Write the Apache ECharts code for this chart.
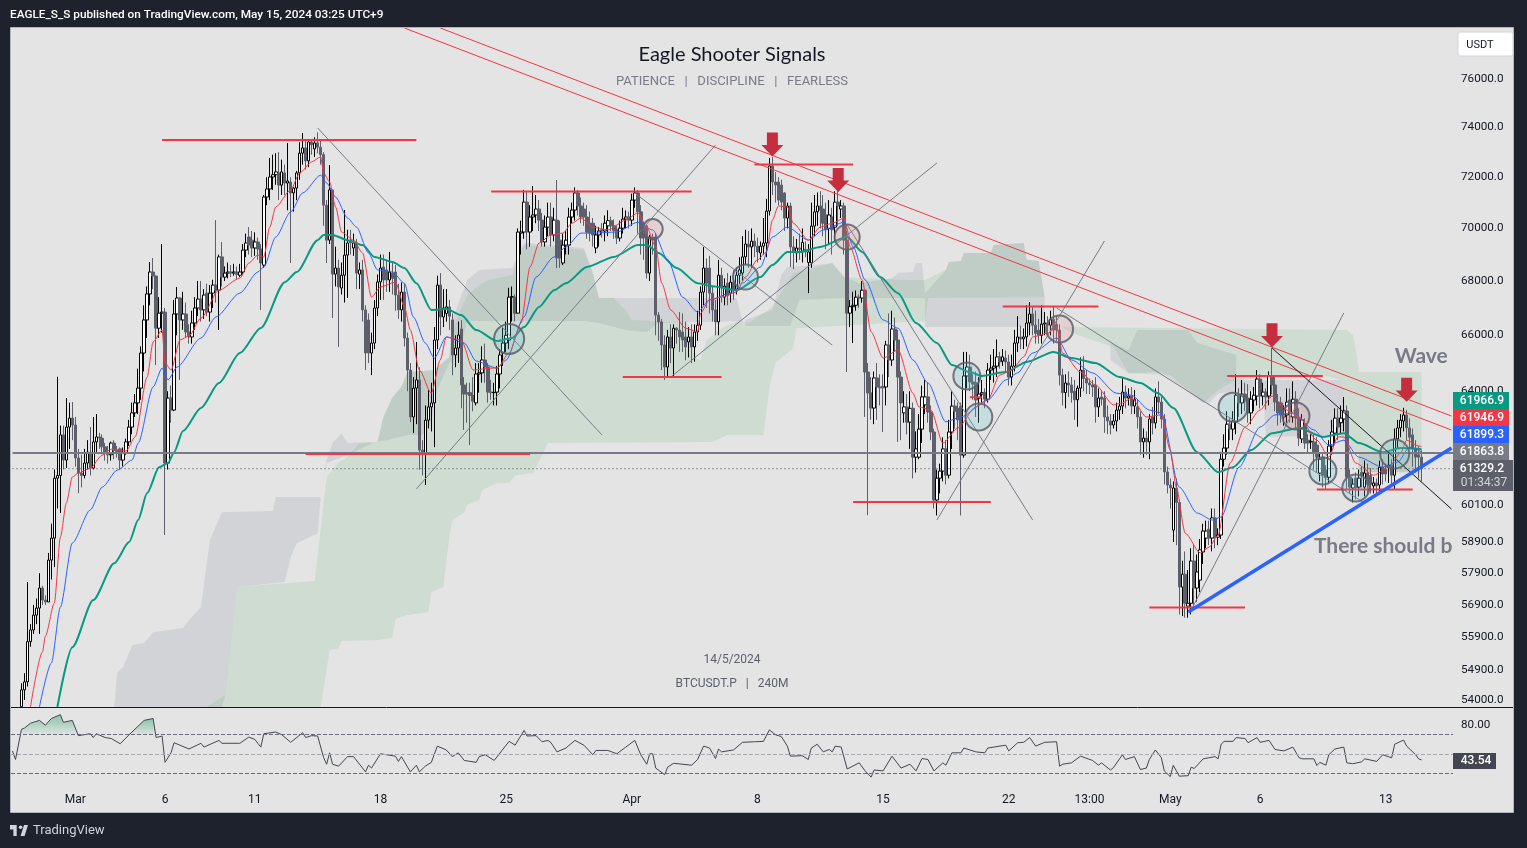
<!DOCTYPE html>
<html>
<head>
<meta charset="utf-8">
<title>BTCUSDT.P 240M</title>
<script src="https://cdn.jsdelivr.net/npm/echarts@6/dist/echarts.min.js"></script>
<style>
html,body{margin:0;padding:0;background:#1e222d;}
#chart{width:1527px;height:848px;}
</style>
</head>
<body>
<div id="chart"></div>
<script>
var barCount = 482;
var firstCandle = 3;
var tickIndex = [21,51,81,123,165,207,249,291,333,360,387,417,459];
var tickText = ['Mar','6','11','18','25','Apr','8','15','22','13:00','May','6','13'];
var priceTicks = [76000,74000,72000,70000,68000,66000,64000,60100,58900,57900,56900,55900,54900,54000];
var priceMin = 53790, priceMax = 78163;
var markedPrice = 61863.8, lastPrice = 61329.2;

// open, close, low, high, candle 3 onwards
var candleRows = [
[53800,54300,53800,54500],[54300,54540,54000,54800],[54540,55760,54400,57620],[55760,56120,55600,56300],[56120,56580,56000,56900],[56580,56800,56300,57100],[56800,57430,56000,57900],
//10
[57430,57050,56900,57500],[57050,56990,56900,57200],[56990,58320,56990,58550],[58320,59030,57700,59500],[59030,61010,58100,61300],[61010,61100,60000,64510],[61100,62480,59850,62800],[62480,61620,61300,62800],[61620,62750,61350,63760],[62750,63060,62000,63600],
//20
[63060,62820,62300,63620],[62820,61690,61400,63100],[61690,61180,60510,62000],[61180,61100,60700,61800],[61100,61520,61000,62000],[61520,61890,61300,62300],[61890,61350,61100,62750],[61350,62240,61300,63100],[62240,62410,61900,63200],[62410,62370,62000,62550],
//30
[62370,62070,61900,62500],[62070,61860,61600,62200],[61860,61800,61500,62100],[61800,62200,61600,62250],[62200,61950,61650,62300],[61950,61900,61700,62100],[62000,61620,61300,62050],[61620,61860,61400,62050],[61860,62240,61800,62350],[62240,62750,62100,63000],
//40
[62750,63240,62500,63600],[63240,63590,63100,63900],[63590,64110,63200,64800],[64110,65360,63700,65600],[65360,66560,64700,67100],[66560,67520,65900,67800],[67520,68340,67100,68720],[68340,68190,67700,68870],[68190,66260,64930,68200],[66260,66810,65900,67400],
//50
[66810,66850,66100,69400],[66850,61520,59130,67000],[61520,63760,61300,64000],[63760,63340,62900,64200],[63340,66780,63300,67300],[66780,67370,66000,67780],[67370,66560,64400,67400],[66560,66780,66200,67600],[66780,66120,65900,67200],[66120,65940,65700,66400],
//60
[65940,66450,65700,66900],[66450,67000,66200,67400],[67000,67330,66700,68000],[67330,66930,66500,68000],[66930,67480,66600,67700],[67550,66850,66700,67900],[66850,67550,66500,67850],[67550,67850,67000,68050],[67850,67660,67200,70320],[67660,68910,66190,69000],
//70
[68910,68150,67800,69480],[68150,68300,68000,68550],[68300,68340,68100,68700],[68340,68300,68150,68600],[68300,68340,68200,68650],[68340,68250,68050,68550],[68220,68340,68150,68650],[68340,69170,68250,69400],[69170,69440,68900,69800],[69670,69360,69000,70050],
//80
[69550,69250,68900,69900],[69250,69480,68950,69850],[69480,69210,68800,69650],[69210,68680,66930,69400],[68600,71220,68500,71300],[71220,71535,70900,72000],[71535,72010,71100,72770],[72010,72100,71500,72900],[72100,72210,71700,72960],[72170,71690,71100,73000],
//90
[71690,72210,71300,72700],[72170,71770,71300,72500],[71770,71850,70700,73370],[71810,71380,68680,72000],[71380,71570,70650,71600],[71570,72170,71100,72250],[72170,72960,71900,73400],[72960,73170,72500,73770],[73170,72650,72300,73500],[72650,73410,72400,73500],
//100
[73410,73300,72900,73500],[73130,73370,72800,73600],[73370,73200,72950,73800],[73200,72900,72500,73500],[72900,70900,70100,73000],[70900,69550,68680,71100],[69550,71500,69400,72480],[71500,68260,66630,71500],[68260,68490,67800,69300],[68490,67780,65580,68800],
//110
[67740,68220,67500,68700],[68220,68980,67200,70710],[68980,69440,67370,69950],[69550,69450,69000,69950],[69250,69440,68950,69800],[69440,68300,67700,69600],[68260,68420,67700,68700],[68420,66930,66500,68800],[66930,65360,64750,67100],[66560,65360,65000,66800],
//120
[65360,65720,64570,66100],[65720,67000,65500,67300],[67000,67970,66700,68250],[67970,68490,67300,69000],[68530,68040,67300,69000],[68420,68040,67600,68800],[68040,68340,67600,69100],[68300,68100,67500,68700],[68340,67480,66900,68600],[67480,66930,66600,67900],
//130
[66930,67590,66500,67950],[67590,65900,65600,67900],[65900,64750,64000,66100],[64750,63100,62920,65000],[63100,64110,62540,64500],[64110,64400,62850,65760],[64400,61960,61300,64850],[61960,61860,61100,62300],[61860,62990,60780,63500],[62990,63450,62700,64050],
//140
[63450,63590,62600,64300],[63590,65830,62060,66300],[65830,67850,65500,68200],[67850,66670,66000,68300],[66670,67000,66300,67700],[66800,67040,66500,67700],[67040,66700,66200,67300],[66560,65290,64570,66800],[65290,65540,64850,66000],[65540,66010,65000,66500],
//150
[66230,64220,63400,66550],[64220,63900,62650,64500],[63950,63900,62900,64300],[63950,63850,62130,64300],[63850,63650,63300,64500],[63590,64610,63500,65000],[64610,64650,63950,65000],[64650,65110,64300,65600],[65110,64860,64300,65700],[64860,63970,63600,65000],
//160
[63970,63950,63700,64400],[63950,63960,63500,64300],[63970,64610,63500,64900],[64610,65290,64100,65500],[65360,65720,64900,66300],[65720,66000,65400,66500],[65830,67400,65500,67750],[67400,67420,66500,67800],[67400,66810,66500,67500],[66810,69860,66800,70000],
//170
[69820,69860,69000,70300],[69860,71020,69600,71500],[71020,69860,69200,71450],[69860,70440,69300,70900],[70440,70520,69900,71650],[70520,70750,70200,71300],[70750,70320,69900,71100],[70320,69480,69300,70600],[69480,70050,69300,70500],[70050,70440,69700,71000],
//180
[70440,69750,69300,71000],[69750,70320,69500,70800],[70320,68870,68490,71890],[69550,68870,68500,70300],[68680,69360,68600,69800],[69360,69550,69000,69900],[69360,70440,69000,70800],[70440,70710,70200,71000],[70710,71380,70300,71600],[71380,70870,70500,71500],
//190
[70870,70440,70200,71200],[70750,70440,70100,71000],[70440,69860,69600,70900],[70200,69820,69500,70650],[70200,69750,69300,70400],[69250,69750,69050,70100],[69750,69900,69300,70050],[69950,69900,69650,70200],[69900,70200,69500,70500],[70100,70300,69700,70700],
//200
[70300,70100,69900,70450],[70100,69920,69600,70350],[69950,69630,69400,70100],[69630,70010,69500,70300],[70010,70360,69800,70800],[70360,70440,70000,70700],[70440,70320,70000,70650],[70320,71100,70100,71350],[71100,71380,70800,71600],[71380,70640,69800,71500],
//210
[70640,69630,69000,70900],[70200,69630,68800,70250],[70100,68300,68100,70150],[68300,69670,68000,69750],[69670,69550,69000,69800],[69670,66740,66000,69800],[66740,66490,65800,66850],[66490,65650,64750,66600],[65650,64860,64400,66000],[64860,65940,64510,66200],
//220
[65940,65540,65000,66400],[65540,66260,64470,66400],[66260,66190,65700,66300],[66190,65940,65400,66850],[66120,65830,65400,66800],[65940,65580,65100,66500],[65760,65940,65200,66300],[65940,65580,65000,66400],[65580,66120,65050,66400],[66120,66370,65800,66900],
//230
[66370,67590,66200,67800],[67590,68490,67100,69290],[68490,67920,67000,68850],[68490,67550,66800,68950],[67550,66930,66500,67800],[66930,66490,66000,67300],[66490,68220,66000,68800],[68220,67780,67200,68500],[67400,67810,67100,68100],[67920,67450,67100,68300],
//240
[67550,67960,67200,68200],[67960,67660,67300,68400],[67660,68220,67500,68500],[68220,68420,67900,68900],[68300,68910,68000,69700],[68910,69400,68600,69950],[69400,69290,68500,69900],[69290,69510,68500,70000],[69510,69320,68900,69800],[69320,69100,68700,69650],
//250
[69060,69320,68800,69500],[69320,69440,69000,70400],[69440,70670,68900,71150],[70670,72450,70500,72770],[72450,71810,71300,72800],[71810,71690,71000,72200],[71810,71100,70900,72000],[71690,71020,70700,71900],[71380,70400,69900,71400],[70400,70870,70000,71000],
//260
[70870,69290,68530,71000],[69290,69100,68450,69700],[69060,69250,68700,69600],[69250,69200,68800,69800],[69100,69460,68700,70000],[69200,69100,68900,69500],[68700,69100,67550,69400],[68680,70090,68500,71000],[70090,70640,69700,71300],[70640,70870,70100,71400],
//270
[70870,70700,70000,71450],[70750,70200,69700,71300],[70520,69950,69200,71000],[70000,70520,69400,71100],[70440,69950,69000,70800],[70050,71020,69500,71450],[71020,70870,70100,71700],[70750,70870,70400,71100],[70870,69550,69000,71000],[69550,66810,64680,69900],
//280
[66810,67050,66300,67300],[67050,67100,65720,67600],[67100,67400,66900,67650],[67400,67370,67000,67500],[67370,67660,67200,68000],[67660,64680,63100,67700],[64680,63940,59780,65000],[63940,63410,63000,64500],[63410,64470,62850,64700],[64470,64150,63000,65000],
//290
[64150,64120,63500,64600],[64170,64120,62580,64600],[64150,65650,63500,65800],[65650,65110,64500,66800],[65110,66230,64900,66900],[66230,65830,65400,66650],[65830,64500,62240,66200],[64500,63590,62300,64700],[63240,63450,62900,64000],[63450,62920,62500,63900],
//300
[62920,63400,62000,64000],[63400,61720,61000,63600],[61720,62000,61200,62600],[61720,62680,61650,63200],[62680,63800,62200,64200],[63520,63800,63200,64400],[63800,63270,62900,64300],[63270,62580,62300,63500],[62580,60280,60000,62700],[60280,61010,59770,61300],
//310
[61010,61250,60500,61500],[61250,62000,60900,62400],[62000,61110,60800,62300],[61110,62580,61000,63000],[62580,63480,62000,64000],[63480,63300,62700,63700],[63400,63000,62300,63600],[63480,61790,59770,63600],[61790,64540,61700,65400],[64540,64860,64100,65400],
//320
[64860,64330,64000,65300],[64330,64250,63700,64600],[64300,63690,63100,64700],[63760,63900,62900,64500],[63900,63950,63600,64400],[63950,63720,63400,64100],[63720,64750,63600,65000],[64750,64820,64400,65300],[64820,64890,64300,65500],[64890,65220,64500,65850],
//330
[65220,65040,64800,65400],[65070,65220,64900,65500],[65180,65040,64700,65450],[65040,64500,64200,65300],[64500,64890,64200,65300],[64890,65720,64700,66200],[65720,65940,65400,66700],[65940,65870,65500,66350],[65870,65940,65500,66250],[65940,66450,65600,67100],
//340
[66450,66780,66000,67220],[66780,66370,66000,67050],[66370,66070,65700,66900],[66190,66000,65700,66600],[66000,66410,65700,67100],[66410,66450,66000,66850],[66450,66370,66000,66700],[66370,66590,66000,66900],[66590,66190,65700,67050],[66400,66190,65800,66700],
//350
[66190,64570,64200,66400],[64570,63950,63500,64800],[63950,64290,63400,64600],[64290,64220,63800,64700],[64220,63950,63600,64500],[64000,63700,63000,64400],[63700,64110,62760,64200],[64110,64750,63800,65200],[64750,64450,64000,65250],[64450,64290,63900,64750],
//360
[64290,64220,63900,64450],[64220,64150,63800,64400],[64220,63450,62900,64500],[63450,63760,63100,64100],[63800,63720,63500,64000],[63760,63100,62550,64000],[63100,62960,62500,63500],[62960,62820,62500,63200],[62820,62960,62700,63200],[62960,63340,62600,63600],
//370
[63340,63480,63000,63800],[63480,63970,63200,64500],[63970,63760,63400,64200],[63760,63830,63500,64100],[63830,63480,63200,64150],[63480,63720,63200,64050],[63450,63100,62700,63700],[63100,62240,61800,63300],[62240,62370,61700,62700],[62370,62240,61800,62600],
//380
[62240,63030,61650,63200],[63100,62890,62500,63450],[62890,63800,62700,64100],[63800,63620,63200,64350],[63620,63030,62700,63800],[63030,61220,60800,63200],[61220,60780,60500,61400],[60780,60680,60000,61000],[59290,60680,58900,60900],[60680,60200,58800,61000],
//390
[60200,57460,56600,60300],[57460,57870,56550,58300],[57870,56950,56500,58600],[56860,56950,56500,58000],[56950,58290,56600,58700],[58290,57430,56800,58800],[57430,57940,57000,58500],[57680,58650,57300,59000],[58580,59260,58200,59500],[59030,59260,58700,59600],
//400
[59320,59030,58800,59600],[59030,59690,58600,60000],[59690,59060,58700,60000],[59060,59130,58800,59350],[59130,61650,59000,61900],[61650,62030,61400,62500],[62030,62850,61800,63300],[62850,62680,62300,63100],[62680,62960,62300,63300],[62920,63860,62500,64600],
//410
[63860,63590,63100,64100],[63590,63900,63200,64400],[63900,63760,63300,64300],[63760,63240,62900,64250],[63240,63720,62850,64000],[63690,63860,63300,64150],[63830,64430,63500,64750],[64430,63830,63400,64600],[63830,63970,63500,64300],[63970,63800,63350,64100],
//420
[63830,64530,63500,64700],[64530,64220,63900,65540],[64220,63620,63300,64500],[63620,63240,62800,63900],[63590,63170,62900,63800],[63100,63170,62800,63500],[63170,63620,62900,64100],[63690,63270,62900,64100],[63100,63720,62900,64350],[63720,63060,62700,64000],
//430
[63060,62370,62100,63400],[62340,63000,62200,63200],[62790,62200,62000,63050],[62300,62200,61850,62500],[62240,62260,62000,62500],[62240,61860,61300,62500],[62130,61720,61200,62400],[61180,61650,60900,61850],[61720,61110,60700,61850],[61280,61040,60650,61450],
//440
[61040,62100,60850,62300],[62100,62580,61800,63000],[62540,63060,62200,63400],[63060,62750,62300,63400],[62900,63060,62500,63500],[63030,63310,62600,63800],[63310,61040,60600,63500],[61040,60710,60500,61300],[60680,60810,60200,61000],[61010,60700,60300,61200],
//450
[60710,61010,60400,61300],[61200,61100,60700,61400],[60710,61180,60400,61600],[61180,60800,60450,61500],[61100,60800,60500,61350],[60750,60850,60500,61050],[60850,60750,60450,61000],[60780,61380,60500,61600],[61380,61150,60800,61650],[61300,61150,60900,61500],
//460
[61380,61450,60850,61900],[61450,61110,60800,61650],[61110,62340,60650,62700],[62340,62720,62000,63000],[62720,62990,62400,63200],[62960,63170,62600,63420],[63170,62720,62300,63350],[62720,62400,62000,63050],[62480,62030,61400,62700],[62030,61720,61200,62300],
//470
[61800,61720,61000,62100],[61720,61329,60900,61950]
];

var emaFast = [[6,53790],[10,55440],[11,55930],[14,56960],[16,59060],[18,60180],[20,61050],[22,61180],[26,61350],[30,61790],[33,61990],[38,61930],[41,62410],[45,64500],[47,65760],[50,66190],[51,65000],[53,64750],[56,65830],[59,65980],[63,66630],[69,67660],[76,68110],[79,68680],[82,68980],[84,68910],[86,70050],[88,70830],[93,71500],[96,72170],[100,72610],[103,72810],[104,72170],[106,71810],[108,70830],[110,69860],[114,69550],[117,69060],[120,67400],[123,67780],[128,67960],[131,67040],[133,66190],[136,64750],[140,63930],[143,65110],[145,65940],[150,65830],[154,64750],[160,64820],[162,64820],[166,65360],[170,66450],[173,68530],[176,69440],[180,69750],[184,69820],[187,70200],[190,70400],[194,70050],[199,69940],[205,70320],[209,70600],[212,70050],[215,69290],[217,67920],[220,66930],[225,66260],[229,66120],[230,66810],[233,67300],[237,67400],[242,67590],[245,68150],[249,68800],[252,69100],[254,70320],[256,70870],[259,70830],[261,70200],[266,69550],[270,70050],[274,70200],[278,70400],[280,69290],[284,68040],[287,66120],[291,65180],[296,65470],[301,63930],[303,63450],[307,63340],[311,62200],[316,62720],[322,63450],[326,63690],[330,64570],[334,64750],[338,65220],[341,65940],[346,66080],[349,66300],[351,65360],[357,64680],[362,64220],[368,63520],[371,63590],[374,63760],[379,63100],[384,63170],[387,61960],[389,60710],[392,59190],[397,58550],[400,58740],[403,59130],[407,61520],[412,62750],[417,63340],[421,63830],[426,63340],[430,63100],[436,62300],[440,61720],[443,62410],[445,62410],[449,61520],[455,61110],[460,61380],[464,61860],[466,62300],[470,62100],[471,62080]];

var emaMid = [[9,53790],[13,55110],[16,56830],[20,58870],[26,59950],[30,60710],[35,61280],[40,61620],[42,62200],[47,64150],[50,64820],[52,64400],[55,64860],[63,65900],[68,66670],[76,67550],[82,68340],[84,68530],[88,69670],[93,70640],[97,71380],[103,72080],[105,71770],[108,71220],[112,70400],[115,70050],[119,69060],[122,68420],[127,68340],[131,67920],[134,66670],[138,65720],[141,65180],[145,65940],[151,65720],[155,65070],[162,64820],[165,65110],[171,66670],[175,68150],[181,68910],[185,69290],[190,69820],[194,69820],[202,69860],[209,70240],[214,69940],[219,68800],[224,67400],[229,66850],[233,67300],[240,67550],[244,67920],[250,68530],[254,69670],[259,70050],[266,69550],[271,69940],[278,70240],[281,69290],[285,68040],[291,66560],[296,66260],[301,65110],[306,64290],[312,62930],[317,63100],[326,63690],[332,64400],[336,64650],[341,65360],[349,65900],[354,65110],[361,64650],[369,63930],[374,63860],[380,63340],[384,63240],[390,60710],[396,59850],[401,59620],[404,59720],[410,61380],[417,62750],[422,63170],[428,63240],[435,62650],[440,62130],[445,62300],[450,61720],[458,61380],[463,61550],[467,62060],[471,61899]];

var emaSlow = [[15,53790],[20,55590],[27,57050],[34,58220],[39,58900],[42,59620],[45,60510],[49,61380],[52,61520],[54,61890],[57,62610],[63,63410],[69,64290],[76,65360],[83,66270],[91,67960],[95,68340],[102,69550],[104,69750],[107,69750],[112,69550],[117,69360],[121,68910],[127,68720],[131,68490],[135,67920],[140,66930],[145,66960],[150,66740],[155,66190],[162,65790],[167,65900],[171,66300],[176,67040],[181,67660],[185,67920],[192,68530],[201,68910],[209,69360],[212,69360],[216,69060],[222,68490],[229,67920],[234,67810],[242,67660],[250,68150],[254,68600],[259,69100],[263,69100],[270,69290],[279,69670],[284,69100],[290,68150],[296,67550],[302,66450],[309,65720],[314,64930],[320,64680],[324,64540],[332,64680],[339,65040],[348,65400],[354,65180],[362,65000],[370,64500],[377,64290],[383,63930],[388,63410],[396,61890],[403,61210],[408,61380],[414,61960],[421,62540],[430,62720],[438,62410],[445,62540],[450,62200],[458,61890],[464,62030],[471,61990]];

var cloudGreenLeft = [[65,53790],[71,54150],[75,57460],[101,57650],[103,59290],[105,61050],[107,61280],[109,61550],[112,61720],[116,62200],[122,62240],[124,63100],[127,63790],[130,64150],[132,64680],[141,64750],[146,65220],[147,66190],[152,67480],[156,67850],[159,68040],[167,68230],[171,69360],[191,69170],[194,68300],[196,67370],[201,67370],[205,66930],[207,66560],[226,66450],[228,65180],[230,65110],[232,65830],[237,66260],[243,66560],[246,66450],[254,67040],[261,68300],[268,68490],[274,68680],[278,68150],[297,68040],[305,68040],[312,68420],[313,68720],[317,68760],[318,69060],[327,69060],[328,69360],[338,69440],[339,68800],[343,68760],[345,67400],[306,67370],[305,66520],[262,66260],[261,65540],[255,65000],[253,64150],[251,62480],[239,62480],[234,62240],[179,62200],[174,61180],[168,61110],[166,60850],[162,60850],[157,60610],[156,60280],[152,60120],[151,59880],[147,59620],[146,59060],[144,57460],[140,57300],[139,56680],[132,56580],[128,56460],[127,55870],[122,55810],[110,55780],[109,55560],[106,55500],[103,53790]];
var cloudGreenRight = [[351,66300],[446,66190],[448,66010],[449,65470],[450,64680],[471,64680],[471,60780],[469,61210],[450,61210],[450,61860],[446,62060],[445,63690],[444,64400],[438,64570],[409,64400],[403,64040],[398,63590],[387,64570],[373,64640],[368,65580],[354,66080]];
var cloudGrayLeft = [[34,53790],[35,54830],[37,54990],[40,55650],[44,55720],[47,56050],[57,56180],[59,56430],[63,56830],[66,58970],[70,59880],[87,59920],[88,60380],[103,60380],[105,61620],[107,62200],[110,62540],[112,62200],[122,62240],[124,63100],[127,63790],[130,64150],[132,64680],[141,64750],[146,65220],[147,66560],[152,68040],[156,68420],[167,68490],[171,69440],[191,69250],[194,68300],[196,67370],[242,67370],[244,66520],[216,66450],[212,66120],[205,66190],[196,66450],[191,66520],[156,66520],[152,66520],[149,65220],[146,65000],[143,64290],[141,63790],[140,62890],[137,62480],[132,62480],[125,62300],[121,62240],[112,61790],[105,61520],[103,60380],[102,59190],[98,59000],[95,58870],[93,58420],[91,57620],[75,57460],[71,54090],[70,53790]];
var cloudGrayMid = [[245,66560],[254,66930],[257,68230],[259,68530],[269,68600],[274,68680],[278,68150],[283,67920],[294,68110],[296,68300],[301,68340],[302,68680],[304,68680],[305,67550],[312,68420],[313,68720],[317,68760],[318,69060],[327,69060],[328,69360],[338,69440],[339,68800],[343,68760],[345,67400],[345,66300],[305,66300],[305,67370],[277,67370],[263,67300],[260,66340],[245,66340]];
var cloudGrayRight = [[367,65720],[373,65470],[376,66190],[393,66190],[396,65720],[409,65290],[409,64400],[444,64400],[445,63690],[446,62060],[444,62480],[419,62410],[418,64040],[403,63930],[400,63590],[398,63590],[384,64680],[373,64640],[367,65110]];
var cloudGrayEnd = [[450,61860],[469,61860],[469,61210],[450,61210]];

// from bar, from price, to bar, to price
var redLevels = [[49.8,73490,135.4,73490],[97.8,61826,173.3,61826],[159.6,71437,227.1,71437],[203.7,64500,237.1,64500],[247.8,72507,281.3,72507],[280.6,60217,327,60217],[330.7,67056,363.2,67056],[379.8,56820,412.3,56820],[405.6,64540,438,64540],[435.7,60630,468.1,60630],[319.5,63790,323.5,63790]];
var redTrends = [[143.4,78163,481.4,63131],[131,78163,481.4,62647]];
var grayTrends = [[102.1,73978,197.4,62482],[135.2,60647,235.1,73290],[208.4,71378,273.9,65649],[219.8,64500,309.3,72567],[279.2,70133,341.1,59623],[309,59623,365.2,69517],[349.4,67000,452,60175],[393.6,56740,444.7,66820]];
var blackTrends = [[421.3,65542,481.4,59982]];
var blueTrends = [[392.9,56680,481.4,62030]];
var tealCircles = [[166,65869],[245,68150],[319,64540],[323,63100],[408,63440],[438,61250],[449,60680],[462,61830]];
var redCircles = [[214,69977],[279,69670],[350,66230],[429,63131]];
var arrowMarks = [[254,73309],[276,71890],[421,66000],[466,64050]];
var chartNotes = [['There should be',434.5,58760],['Wave 4',462.4,65250]];

var rsiTicks = [80];
var rsiLevels = [70,50,30];
var rsiLast = 43.54;
var rsiHighA = [[3,70],[3,75.6],[4,77],[6,82],[9,85],[11,80],[13,87],[16,91],[17,83],[20,85],[22,70]];
var rsiHighB = [[39,70],[44,85],[47,87],[48,70]];
var rsiValues = [[0,53],[1,44],[3,75.6],[4,77],[6,82],[9,85],[11,80],[13,87],[16,91],[17,83],[20,85],[22,69],[26,71],[27,67],[28,71],[31,67],[33,66],[36,60.5],[39,70],[44,85],[47,87],[48,67],[50,68.6],[51,41],[53,51],[54,61.6],[59,55],[63,61],[64,57],[69,64],[70,61],[76,61],[79,67.5],[81,65],[83,57],[84,71],[88,72.8],[90,70],[93,62],[97,72],[98,67],[100,69],[102,68.6],[104,46],[105,39],[106,51],[107,39],[109,37],[112,47],[114,47],[118,31],[119,38],[120,35],[123,50],[125,49],[128,47.5],[129,42],[130,47],[133,31],[135,38],[136,31],[138,37],[140,41],[142,58],[145,54],[147,47],[149,51],[151,43],[155,41],[156,47],[158,49],[161,43],[164,55],[166,63],[168,59],[171,74.5],[172,68.6],[175,69],[177,62.6],[179,64],[180,61.6],[182,52],[185,56],[188,64],[191,59],[194,49],[195,53.5],[199,53.5],[202,50],[205,57],[208,64],[210,49],[212,39],[213,50],[214,50],[215,35],[218,28],[219,36],[221,40],[227,38],[229,44],[231,58],[233,56],[235,45],[236,55],[237,52],[241,54],[244,62],[248,62.6],[251,63],[253,75],[255,70],[257,68],[259,58],[260,47.5],[264,48],[266,44],[267,56],[269,60],[271,52],[273,54.5],[274,52],[275,58],[277,57],[279,34],[283,40.5],[285,32],[287,25.5],[288,33],[291,32],[294,47.5],[297,35],[300,39],[302,32],[304,45],[306,44],[308,32],[311,40.5],[312,38],[314,51],[317,51],[318,56],[322,52],[325,51],[326,56],[332,59],[333,53],[336,61.6],[338,62],[340,67],[342,58],[345,62],[349,62.6],[350,37],[351,39],[354,40.5],[357,47.5],[361,43],[363,38],[364,40.5],[367,33],[368,35.5],[371,49],[372,44],[375,47],[377,33.5],[379,35],[380,44],[382,54],[384,46],[385,32],[387,26],[388,38],[390,26.5],[393,27],[394,36],[395,34.5],[398,44.7],[402,47],[403,44.7],[404,60],[405,63],[408,63],[409,67],[412,66],[413,61.6],[416,67],[417,62],[420,64],[422,54.5],[425,53],[428,57],[430,46],[431,44.7],[435,44.7],[436,37.7],[437,41],[439,38],[440,49],[442,55],[445,57],[446,40.5],[448,39.5],[451,41.6],[452,44.7],[456,42],[458,49],[461,45.8],[462,60],[465,64.4],[466,58],[469,49],[470,44.7],[471,43.54]];

var priceTagText = ['61966.9','61946.9','61899.3','61863.8'];

var FONT = 'Roboto, sans-serif';
var chart = echarts.init(document.getElementById('chart'));

var categories = [];
for (var n = 0; n < barCount; n++) {
	categories.push(String(n));
}
var candleData = [];
for (var k = 0; k < firstCandle; k++) {
	candleData.push('-');
}
candleData = candleData.concat(candleRows);

function cloudSeries(shape, color) {
	return {
		type: 'custom', xAxisIndex: 0, yAxisIndex: 0, z: 1, clip: true, silent: true,
		data: [0],
		renderItem: function(params, api) {
			var pts = [];
			for (var i = 0; i < shape.length; i++) {
				pts.push(api.coord(shape[i]));
			}
			return {type: 'polygon', shape: {points: pts}, style: {fill: color}};
		}
	};
}

function trendSeries(rows, color, width, z, dash) {
	return {
		type: 'custom', xAxisIndex: 0, yAxisIndex: 0, z: z, clip: true, silent: true,
		data: rows.map(function(r, i) { return i; }),
		renderItem: function(params, api) {
			var r = rows[params.dataIndex];
			var a = api.coord([r[0], r[1]]);
			var b = api.coord([r[2], r[3]]);
			return {type: 'line', shape: {x1: a[0], y1: a[1], x2: b[0], y2: b[1]}, style: {stroke: color, lineWidth: width, fill: null, lineDash: dash || null}};
		}
	};
}

function emaSeries(points, color, width) {
	return {
		type: 'line', xAxisIndex: 0, yAxisIndex: 0, z: 3, data: points,
		showSymbol: false, silent: true, smooth: 0.25, smoothMonotone: 'x',
		lineStyle: {color: color, width: width}
	};
}

function rsiHighSeries(points) {
	return {
		type: 'line', xAxisIndex: 1, yAxisIndex: 1, z: 2, data: points, showSymbol: false, silent: true,
		lineStyle: {width: 0},
		areaStyle: {
			origin: 70,
			color: new echarts.graphic.LinearGradient(0, 0, 0, 1, [
				{offset: 0, color: 'rgba(8,153,90,0.6)'},
				{offset: 1, color: 'rgba(8,153,90,0.03)'}
			])
		}
	};
}

function panelText(text, x, y, size, color, extra) {
	// middle alignment sits a pixel high here
	var style = {text: text, x: x, y: y + 1, fill: color, font: size + 'px ' + FONT, textAlign: 'center', textVerticalAlign: 'middle'};
	for (var key in extra) {
		style[key] = extra[key];
	}
	return {type: 'text', z: 60, silent: true, style: style};
}

function tagBox(x, y, w, h, fill) {
	return {type: 'rect', z: 60, silent: true, shape: {x: x, y: y, width: w, height: h}, style: {fill: fill}};
}

var tagColors = ['#089981', '#f23645', '#2962ff', '#787b86'];
var tagY = [392, 409, 426, 443];
var tagItems = [];
for (var t = 0; t < priceTagText.length; t++) {
	tagItems.push(tagBox(1453, tagY[t], 56, 17, tagColors[t]));
	tagItems.push(panelText(priceTagText[t], 1482, tagY[t] + 8, 12, '#fff', {font: '500 12px ' + FONT}));
}
tagItems.push(tagBox(1453, 460, 60, 31, '#5d606b'));
tagItems.push(panelText(lastPrice.toFixed(1), 1482, 467.5, 12, '#fff', {font: '500 12px ' + FONT}));
tagItems.push(panelText('01:34:37', 1484, 481.5, 12, '#d1d4dc'));
tagItems.push(tagBox(1453, 753, 43, 16, '#434651'));
tagItems.push(panelText(rsiLast.toFixed(2), 1476, 760, 12, '#fff', {font: '500 12px ' + FONT}));

var option = {
	animation: false,
	backgroundColor: '#1e222d',
	grid: [
		{left: 11, right: 74, top: 28, height: 679},
		{left: 11, right: 74, top: 708, height: 82}
	],
	xAxis: [
		{type: 'category', gridIndex: 0, data: categories, show: false, boundaryGap: true},
		{
			type: 'category', gridIndex: 1, data: categories, boundaryGap: true,
			axisLine: {show: false}, axisTick: {show: false},
			axisLabel: {
				color: '#131722', fontFamily: FONT, fontSize: 12, margin: 4,
				interval: function(idx) { return tickIndex.indexOf(idx) >= 0; },
				formatter: function(val, idx) { return tickText[tickIndex.indexOf(idx)]; }
			}
		}
	],
	yAxis: [
		{
			type: 'log', gridIndex: 0, position: 'right', min: priceMin, max: priceMax, logBase: 10,
			splitLine: {show: false}, minorSplitLine: {show: false}, axisLine: {show: false}, axisTick: {show: false},
			axisLabel: {
				customValues: priceTicks, color: '#131722', fontFamily: FONT, fontSize: 11.7, margin: 8, padding: [2, 0, 0, 0],
				showMinLabel: true, showMaxLabel: true,
				formatter: function(val) { return Number(val).toFixed(1); }
			}
		},
		{
			type: 'value', gridIndex: 1, position: 'right', min: 12, max: 98,
			splitLine: {show: false}, axisLine: {show: false}, axisTick: {show: false},
			axisLabel: {
				customValues: rsiTicks, color: '#131722', fontFamily: FONT, fontSize: 11.7, margin: 8, padding: [3, 0, 0, 0],
				formatter: function(val) { return Number(val).toFixed(2); }
			}
		}
	],
	series: [
		cloudSeries(cloudGrayLeft, 'rgba(107,113,133,0.15)'),
		cloudSeries(cloudGrayMid, 'rgba(107,113,133,0.15)'),
		cloudSeries(cloudGrayRight, 'rgba(107,113,133,0.15)'),
		cloudSeries(cloudGrayEnd, 'rgba(107,113,133,0.15)'),
		cloudSeries(cloudGreenLeft, 'rgba(88,175,108,0.15)'),
		cloudSeries(cloudGreenRight, 'rgba(88,175,108,0.15)'),
		{
			type: 'candlestick', xAxisIndex: 0, yAxisIndex: 0, z: 2, data: candleData, barWidth: 3, silent: true, clip: true,
			itemStyle: {color: '#ffffff', color0: '#5d606b', borderColor: '#000000', borderColor0: '#5d606b', borderWidth: 1}
		},
		emaSeries(emaSlow, '#089981', 2),
		emaSeries(emaMid, '#2962ff', 1),
		emaSeries(emaFast, '#f23645', 1),
		trendSeries([[-0.5, markedPrice, barCount - 0.5, markedPrice]], '#787b86', 2, 4),
		trendSeries([[-0.5, lastPrice, barCount - 0.5, lastPrice]], '#434651', 1, 4, [1, 3]),
		trendSeries(grayTrends, '#787b86', 1, 4),
		trendSeries(redTrends, '#f23645', 1, 4),
		trendSeries(redLevels, '#f23645', 2, 4),
		trendSeries(blackTrends, '#131722', 1, 4),
		trendSeries(blueTrends, '#2962ff', 3.5, 4),
		{
			type: 'scatter', xAxisIndex: 0, yAxisIndex: 0, z: 5, data: tealCircles, silent: true,
			symbolSize: function(v, p) { return [30, 25, 27, 27, 29, 27, 27, 29][p.dataIndex]; },
			itemStyle: {color: 'rgba(90,190,200,0.22)', borderColor: 'rgba(93,96,107,0.85)', borderWidth: 2, opacity: 1}
		},
		{
			type: 'scatter', xAxisIndex: 0, yAxisIndex: 0, z: 5, data: redCircles, silent: true,
			symbolSize: function(v, p) { return [20, 25, 27, 27][p.dataIndex]; },
			itemStyle: {color: 'rgba(230,130,130,0.2)', borderColor: 'rgba(93,96,107,0.85)', borderWidth: 2, opacity: 1}
		},
		{
			type: 'scatter', xAxisIndex: 0, yAxisIndex: 0, z: 6, data: arrowMarks, silent: true,
			symbol: 'path://M5 0H15V11H20L10 21L0 11H5Z', symbolSize: [22, 24],
			itemStyle: {color: '#c62e3d', opacity: 1}
		},
		{
			type: 'custom', xAxisIndex: 0, yAxisIndex: 0, z: 6, clip: true, silent: true,
			data: chartNotes.map(function(r, i) { return i; }),
			renderItem: function(params, api) {
				var r = chartNotes[params.dataIndex];
				var p = api.coord([r[1], r[2]]);
				return {type: 'text', style: {text: r[0], x: p[0], y: p[1], fill: '#787b86', font: 'bold 21px Lato, sans-serif', textVerticalAlign: 'middle'}};
			}
		},
		{
			type: 'line', xAxisIndex: 1, yAxisIndex: 1, z: 3, data: rsiValues, showSymbol: false, silent: true,
			lineStyle: {color: '#434651', width: 1},
			markLine: {
				silent: true, symbol: 'none', animation: false, label: {show: false},
				lineStyle: {color: '#6a6d78', type: 'dashed', width: 1},
				data: rsiLevels.map(function(v) {
					return {yAxis: v, lineStyle: v == 50 ? {color: '#a8aab0', type: 'dashed', width: 1} : {color: '#6a6d78', type: 'dashed', width: 1}};
				})
			}
		},
		rsiHighSeries(rsiHighA),
		rsiHighSeries(rsiHighB)
	],
	graphic: {
		elements: [
			{type: 'rect', z: -1, silent: true, shape: {x: 10.5, y: 27.5, width: 1503, height: 785}, style: {fill: '#e4e4e4', stroke: '#b2b5be', lineWidth: 1}},
			{type: 'line', z: 40, silent: true, shape: {x1: 11, y1: 707.5, x2: 1513, y2: 707.5}, style: {stroke: '#131722', lineWidth: 1}},
			{type: 'rect', z: 60, silent: true, shape: {x: 1458, y: 32, width: 55, height: 24, r: 2}, style: {fill: '#ffffff', stroke: '#d1d4dc', lineWidth: 1}},
			panelText('USDT', 1480, 44, 11, '#131722'),
			panelText('EAGLE_S_S published on TradingView.com, May 15, 2024 03:25 UTC+9', 10, 14, 11, '#ffffff', {textAlign: 'left', font: '500 11.8px ' + FONT}),
			panelText('Eagle Shooter Signals', 732, 54, 20, '#131722', {font: '20px Lato, sans-serif'}),
			panelText('PATIENCE   |   DISCIPLINE   |   FEARLESS', 732, 81, 13, '#787b86'),
			panelText('14/5/2024', 732, 659, 12, '#5d606b'),
			panelText('BTCUSDT.P   |   240M', 732, 683, 12, '#5d606b'),
			panelText('TradingView', 33, 830, 13, '#d1d4dc', {textAlign: 'left'}),
			{type: 'polygon', z: 60, silent: true, shape: {points: [[10,825],[16.7,825],[16.7,836],[13.4,836],[13.4,829.4],[10,829.4]]}, style: {fill: '#d1d4dc'}},
			{type: 'polygon', z: 60, silent: true, shape: {points: [[24.6,836],[20.6,836],[24,825],[28,825]]}, style: {fill: '#d1d4dc'}},
			{type: 'circle', z: 60, silent: true, shape: {cx: 20.6, cy: 827.2, r: 1.8}, style: {fill: '#d1d4dc'}}
		].concat(tagItems)
	}
};
chart.setOption(option);
</script>
</body>
</html>
